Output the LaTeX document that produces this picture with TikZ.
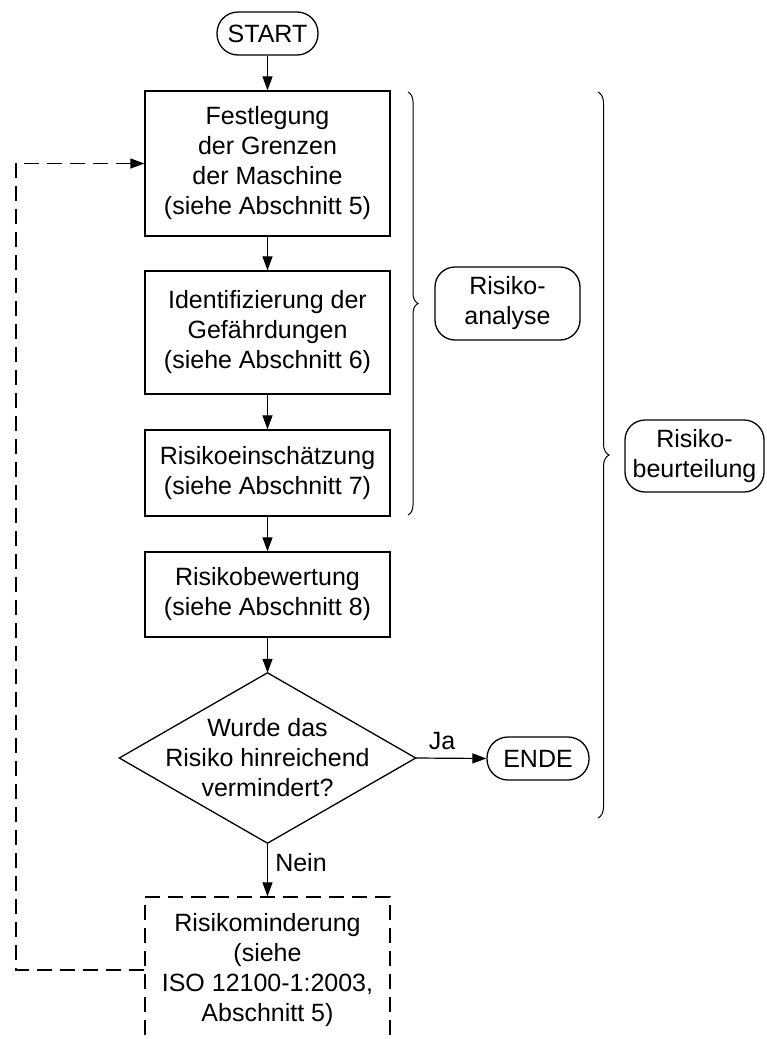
\documentclass[tikz,border=0pt]{standalone}
\usepackage{fontspec}
\setmainfont{Liberation Sans}
\usetikzlibrary{arrows.meta,decorations.pathreplacing}
\begin{document}
\begin{tikzpicture}[x=1pt,y=1pt,
  every node/.style={font=\fontsize{25}{30}\selectfont, align=center, inner sep=0pt},
  proc/.style={draw, line width=1.3pt, minimum width=245pt},
  term/.style={draw, line width=1.3pt, rounded corners=21pt, minimum height=43pt},
  note/.style={draw, line width=1.3pt, rounded corners=20pt},
  tip/.style={-{Triangle[length=14pt,width=10pt]}},
  arr/.style={line width=1.2pt, tip},
  dsh/.style={line width=1.3pt, dash pattern=on 15pt off 8pt},
  brc/.style={line width=1pt, decorate}
]
\useasboundingbox (0,0) rectangle (766,-1039);
\node[term, minimum width=101pt] (start) at (267.5,-33.5) {START};
\node[proc, minimum height=145pt] (b1) at (267.5,-163.5) {Festlegung\\der Grenzen\\der Maschine\\(siehe Abschnitt 5)};
\node[proc, minimum height=123pt] (b2) at (267.5,-332.5) {Identifizierung der\\Gef\"ahrdungen\\(siehe Abschnitt 6)};
\node[proc, minimum height=86pt] (b3) at (267.5,-473) {Risikoeinsch\"atzung\\(siehe Abschnitt 7)};
\node[proc, minimum height=85pt] (b4) at (267.5,-594.5) {Risikobewertung\\(siehe Abschnitt 8)};
\node[minimum width=296pt, minimum height=170pt] (d) at (267.5,-758) {Wurde das\\Risiko hinreichend\\vermindert?};
\draw[line width=1.3pt] (d.north) -- (d.east) -- (d.south) -- (d.west) -- cycle;
\node[term, minimum width=102pt] (ende) at (538,-758.5) {ENDE};
\node[proc, dsh, minimum height=146pt] (rm) at (267.5,-970) {Risikominderung\\(siehe\\ISO 12100-1:2003,\\Abschnitt 5)};
\node[note, minimum width=145pt, minimum height=73pt] (ra) at (507.5,-303.5) {Risiko-\\analyse};
\node[note, minimum width=139pt, minimum height=72pt] (rb) at (694.5,-456) {Risiko-\\beurteilung};
\node (ja) at (442,-741) {Ja};
\node (nein) at (301,-863) {Nein};
\coordinate (fb) at (16,0);
\draw[arr] (start) -- (b1);
\draw[arr] (b1) -- (b2);
\draw[arr] (b2) -- (b3);
\draw[arr] (b3) -- (b4);
\draw[arr] (b4) -- (d.north);
\draw[arr] (d.east) -- (ende.west);
\draw[arr] (d.south) -- (rm.north);
\draw[dsh, tip] (rm.west) -- (rm.west -| fb) -- (b1.west -| fb) -- (b1.west);
\draw[brc, decoration={brace, amplitude=10pt}] (408,-92) -- (408,-515);
\draw[brc, decoration={brace, amplitude=11pt}] (598,-92) -- (598,-818);
\end{tikzpicture}
\end{document}
